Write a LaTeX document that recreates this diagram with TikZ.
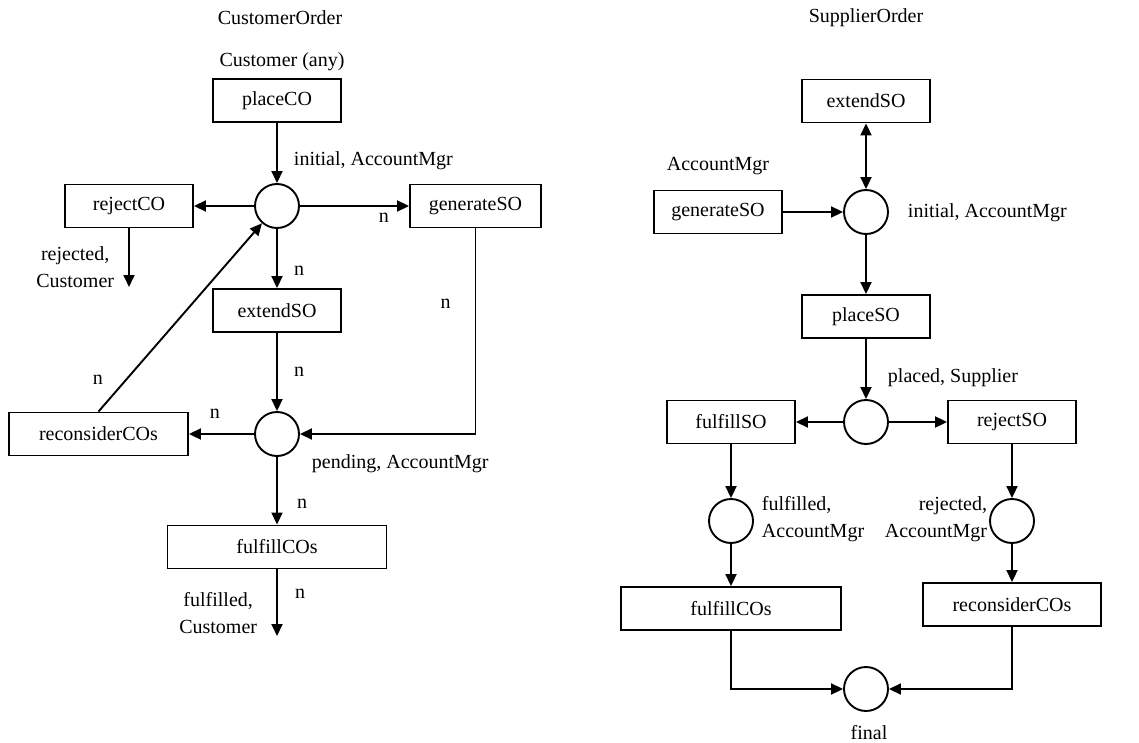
\documentclass[tikz,border=0pt]{standalone}
\usepackage{fontspec}
\setmainfont{Liberation Serif}
\usetikzlibrary{arrows.meta}
\begin{document}
\begin{tikzpicture}[x=1pt, y=-1pt, line width=1.9pt, >={Triangle[length=12pt,width=11pt]},
    every node/.style={font=\fontsize{20}{27}\selectfont},
    trans/.style={draw, rectangle, minimum width=128pt, minimum height=43pt, inner sep=0pt},
    place/.style={draw, circle, minimum size=44pt, inner sep=0pt},
    lbl/.style={inner sep=0pt}]

    \useasboundingbox (0,0) rectangle (1139,743);

    % CustomerOrder net
    \node[lbl] (titleCO) at (280,18) {CustomerOrder};
    \node[lbl] (roleCO) at (282,62) {Customer (any)};
    \node[trans] (placeCO) at (277,100.5) {placeCO};
    \node[place] (initL) at (277,206) {};
    \node[trans] (rejectCO) at (129,206) {rejectCO};
    \node[trans, minimum width=131pt] (genL) at (475.5,206) {generateSO};
    \node[trans] (extL) at (277,310.5) {extendSO};
    \node[place] (pendL) at (277,434) {};
    \node[trans, minimum width=179pt] (reconL) at (98.5,434) {reconsiderCOs};
    \node[trans, minimum width=219pt] (fulL) at (277,547) {fulfillCOs};
    \coordinate (rejEnd) at (129,287);
    \coordinate (fulEnd) at (277,636);

    % place labels
    \node[lbl, anchor=west] (initLtxt) at (293,161) {initial, AccountMgr};
    \node[lbl, anchor=west] (pendLtxt) at (311,464) {pending, AccountMgr};
    \node[lbl, align=center, anchor=east] (rejLtxt) at (115,267) {rejected,\\Customer};
    \node[lbl, align=center, anchor=east] (fulLtxt) at (258,613) {fulfilled,\\Customer};

    % arcs
    \draw[->] (placeCO) -- (initL);
    \draw[->] (initL) -- (rejectCO);
    \draw[->] (initL) -- node[lbl, pos=.77, yshift=-12pt] {n} (genL);
    \draw[->] (initL) -- node[lbl, pos=.7, xshift=22pt] {n} (extL);
    \draw[->] (extL) -- node[lbl, pos=.5, xshift=22pt] {n} (pendL);
    \draw[->] (genL.south) |- node[lbl, pos=.184, xshift=-30pt] {n} (pendL);
    \draw[->] (pendL) -- node[lbl, pos=.6, yshift=20pt] {n} (reconL);
    \draw[->] (reconL.north) -- node[lbl, pos=.1, xshift=-17pt, yshift=13pt] {n} (initL);
    \draw[->] (pendL) -- node[lbl, pos=.7, xshift=25pt] {n} (fulL);
    \draw[->] (rejectCO) -- (rejEnd);
    \draw[->] (fulL) -- node[lbl, pos=.36, xshift=23pt] {n} (fulEnd);

    % SupplierOrder net
    \node[lbl] (titleSO) at (866,18) {SupplierOrder};
    \node[trans] (extR) at (866,101) {extendSO};
    \node[place] (initR) at (866,212) {};
    \node[trans] (genR) at (718,212) {generateSO};
    \node[trans] (placeSO) at (866,316.5) {placeSO};
    \node[place] (placedR) at (866,422) {};
    \node[trans] (fulfillSO) at (731,422) {fulfillSO};
    \node[trans] (rejectSO) at (1012,422) {rejectSO};
    \node[place] (fulR) at (731,521) {};
    \node[place] (rejR) at (1012,521) {};
    \node[trans, minimum width=220pt] (fulCR) at (731,608.5) {fulfillCOs};
    \node[trans, minimum width=178pt] (recR) at (1012,604.5) {reconsiderCOs};
    \node[place] (finalR) at (866,689) {};

    % place labels
    \node[lbl] (roleSO) at (718,166) {AccountMgr};
    \node[lbl, anchor=west] (initRtxt) at (907,213) {initial, AccountMgr};
    \node[lbl, anchor=west] (placedRtxt) at (887,378) {placed, Supplier};
    \node[lbl, align=left, anchor=west] (fulRtxt) at (761,519) {fulfilled,\\AccountMgr};
    \node[lbl, align=right, anchor=east] (rejRtxt) at (988,519) {rejected,\\AccountMgr};
    \node[lbl] (finalRtxt) at (869,733) {final};

    % arcs
    \draw[<->] (extR) -- (initR);
    \draw[->] (genR) -- (initR);
    \draw[->] (initR) -- (placeSO);
    \draw[->] (placeSO) -- (placedR);
    \draw[->] (placedR) -- (fulfillSO);
    \draw[->] (placedR) -- (rejectSO);
    \draw[->] (fulfillSO) -- (fulR);
    \draw[->] (fulR) -- (fulCR);
    \draw[->] (rejectSO) -- (rejR);
    \draw[->] (rejR) -- (recR);
    \draw[->] (fulCR.south) |- (finalR);
    \draw[->] (recR.south) |- (finalR);

\end{tikzpicture}
\end{document}
